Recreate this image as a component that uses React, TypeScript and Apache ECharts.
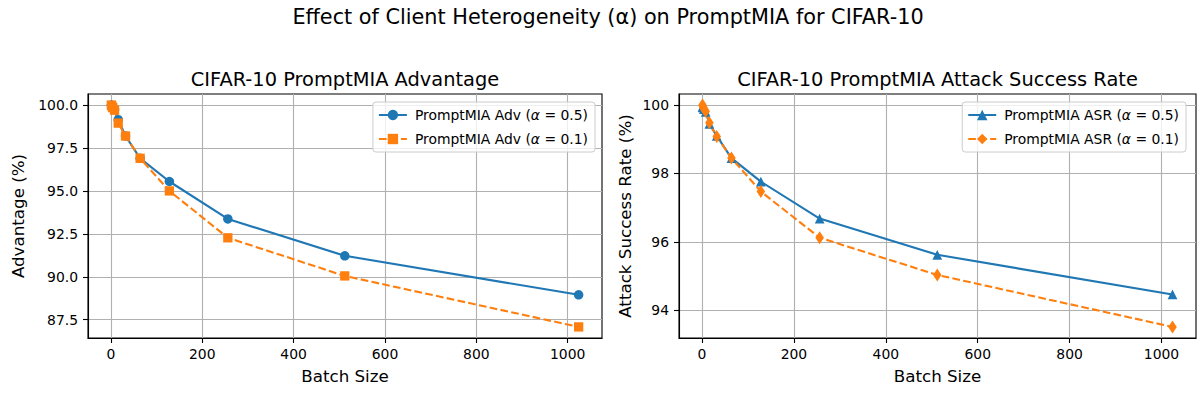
import React, { useEffect, useRef } from "react";
import * as echarts from "echarts";

const batchSizes = [1, 2, 4, 8, 16, 32, 64, 128, 256, 512, 1024];
const advAlpha05 = [100.0, 99.97, 99.9, 99.75, 99.15, 98.2, 96.9, 95.55, 93.37, 91.22, 88.95];
const advAlpha01 = [100.0, 99.95, 99.85, 99.7, 98.95, 98.2, 96.9, 95.0, 92.27, 90.05, 87.08];
const asrAlpha05 = [99.95, 99.93, 99.88, 99.8, 99.45, 99.1, 98.45, 97.76, 96.68, 95.62, 94.46];
const asrAlpha01 = [100.0, 99.95, 99.9, 99.82, 99.48, 99.08, 98.45, 97.47, 96.12, 95.03, 93.51];
const xTicks = [0, 200, 400, 600, 800, 1000];
const advTicks = [87.5, 90.0, 92.5, 95.0, 97.5, 100.0];
const asrTicks = [94, 96, 98, 100];

const FONT = "DejaVu Sans";
const BLUE = "#1f77b4";
const ORANGE = "#ff7f0e";

function padRange(vals: number[]) {
  const lo = Math.min(...vals);
  const hi = Math.max(...vals);
  const m = (hi - lo) * 0.05;
  return [lo - m, hi + m];
}

export default function App() {
  const ref = useRef<HTMLDivElement>(null);
  useEffect(() => {
    if (!ref.current) return;
    const chart = echarts.init(ref.current, undefined, { renderer: "svg" });
    const xr = padRange(batchSizes);
    const advR = padRange([...advAlpha05, ...advAlpha01]);
    const asrR = padRange([...asrAlpha05, ...asrAlpha01]);
    const pts = (ys: number[]) => batchSizes.map((x, i) => [x, ys[i]]);
    const dash = [7.7, 3.3];
    const axisCommon = {
      type: "value",
      axisLine: { show: true, onZero: false, lineStyle: { color: "#000", width: 1.1 } },
      axisTick: { show: true, inside: false, length: 5, lineStyle: { color: "#000", width: 1.1 } },
      splitLine: { show: true, lineStyle: { color: "#b0b0b0", width: 1.1 } },
      nameLocation: "middle",
      nameTextStyle: { fontFamily: FONT, fontSize: 16.7, color: "#000" },
    };
    const xAxis = (gi: number) => ({
      ...axisCommon,
      gridIndex: gi,
      min: xr[0],
      max: xr[1],
      name: "Batch Size",
      nameGap: 29,
      axisTick: { ...axisCommon.axisTick, customValues: xTicks },
      axisLabel: {
        customValues: xTicks,
        fontFamily: FONT,
        fontSize: 13.9,
        color: "#000",
        margin: 9,
        formatter: (v: number) => String(v),
      },
    });
    const legendRich = {
      n: { fontFamily: FONT, fontSize: 13.9, color: "#000" },
      a: { fontFamily: FONT, fontSize: 13.9, color: "#000", fontStyle: "italic" },
    };
    const fmt = (name: string) => {
      const parts = name.split("α");
      return `{n|${parts[0]}}{a|α}{n|${parts[1]}}`;
    };
    const legendCommon = {
      orient: "vertical",
      top: 102,
      itemWidth: 28,
      itemHeight: 13,
      itemGap: 10,
      padding: [6, 7, 6, 5],
      backgroundColor: "rgba(255,255,255,0.8)",
      borderColor: "#cccccc",
      borderWidth: 1,
      borderRadius: 3,
      formatter: fmt,
      textStyle: { rich: legendRich, padding: [0, 0, 0, 3] },
    };
    chart.setOption({
      animation: false,
      backgroundColor: "#fff",
      graphic: [
        {
          type: "text",
          x: 608,
          y: 6,
          style: {
            text: "Effect of Client Heterogeneity (α) on PromptMIA for CIFAR-10",
            fontFamily: FONT,
            fontSize: 20.8,
            fill: "#000",
            textAlign: "center",
            textVerticalAlign: "top",
          },
        },
        {
          type: "text",
          x: 345,
          y: 70,
          style: {
            text: "CIFAR-10 PromptMIA Advantage",
            fontFamily: FONT,
            fontSize: 19.4,
            fill: "#000",
            textAlign: "center",
            textVerticalAlign: "top",
          },
        },
        {
          type: "text",
          x: 937.5,
          y: 70,
          style: {
            text: "CIFAR-10 PromptMIA Attack Success Rate",
            fontFamily: FONT,
            fontSize: 19.4,
            fill: "#000",
            textAlign: "center",
            textVerticalAlign: "top",
          },
        },
      ],
      legend: [
        { ...legendCommon, right: 609, data: ["PromptMIA Adv (α = 0.5)", "PromptMIA Adv (α = 0.1)"] },
        { ...legendCommon, right: 18, data: ["PromptMIA ASR (α = 0.5)", "PromptMIA ASR (α = 0.1)"] },
      ],
      grid: [
        { left: 88, top: 94, width: 514, height: 244, show: true, borderColor: "#000", borderWidth: 1.1 },
        { left: 679, top: 94, width: 517, height: 244, show: true, borderColor: "#000", borderWidth: 1.1 },
      ],
      xAxis: [xAxis(0), xAxis(1)],
      yAxis: [
        {
          ...axisCommon,
          gridIndex: 0,
          min: advR[0],
          max: advR[1],
          name: "Advantage (%)",
          nameGap: 62,
          axisTick: { ...axisCommon.axisTick, customValues: advTicks },
          axisLabel: {
            customValues: advTicks,
            fontFamily: FONT,
            fontSize: 13.9,
            color: "#000",
            margin: 10,
            formatter: (v: number) => v.toFixed(1),
          },
        },
        {
          ...axisCommon,
          gridIndex: 1,
          min: asrR[0],
          max: asrR[1],
          name: "Attack Success Rate (%)",
          nameGap: 46,
          axisTick: { ...axisCommon.axisTick, customValues: asrTicks },
          axisLabel: {
            customValues: asrTicks,
            fontFamily: FONT,
            fontSize: 13.9,
            color: "#000",
            margin: 10,
            formatter: (v: number) => v.toFixed(0),
          },
        },
      ],
      series: [
        {
          type: "line",
          name: "PromptMIA Adv (α = 0.5)",
          xAxisIndex: 0,
          yAxisIndex: 0,
          data: pts(advAlpha05),
          symbol: "circle",
          symbolSize: 9.5,
          showAllSymbol: true,
          color: BLUE,
          lineStyle: { color: BLUE, width: 2.1 },
          itemStyle: { color: BLUE },
        },
        {
          type: "line",
          name: "PromptMIA Adv (α = 0.1)",
          xAxisIndex: 0,
          yAxisIndex: 0,
          data: pts(advAlpha01),
          symbol: "rect",
          symbolSize: 9.3,
          showAllSymbol: true,
          color: ORANGE,
          lineStyle: { color: ORANGE, width: 2.1, type: dash },
          itemStyle: { color: ORANGE },
        },
        {
          type: "line",
          name: "PromptMIA ASR (α = 0.5)",
          xAxisIndex: 1,
          yAxisIndex: 1,
          data: pts(asrAlpha05),
          symbol: "triangle",
          symbolSize: 9.7,
          showAllSymbol: true,
          color: BLUE,
          lineStyle: { color: BLUE, width: 2.1 },
          itemStyle: { color: BLUE },
        },
        {
          type: "line",
          name: "PromptMIA ASR (α = 0.1)",
          xAxisIndex: 1,
          yAxisIndex: 1,
          data: pts(asrAlpha01),
          symbol: "diamond",
          symbolSize: [8.5, 13],
          showAllSymbol: true,
          color: ORANGE,
          lineStyle: { color: ORANGE, width: 2.1, type: dash },
          itemStyle: { color: ORANGE },
        },
      ],
    } as any);
    return () => chart.dispose();
  }, []);
  return (
    <div
      ref={ref}
      style={{ position: "absolute", left: 0, top: 0, width: 1204, height: 396 }}
    />
  );
}
